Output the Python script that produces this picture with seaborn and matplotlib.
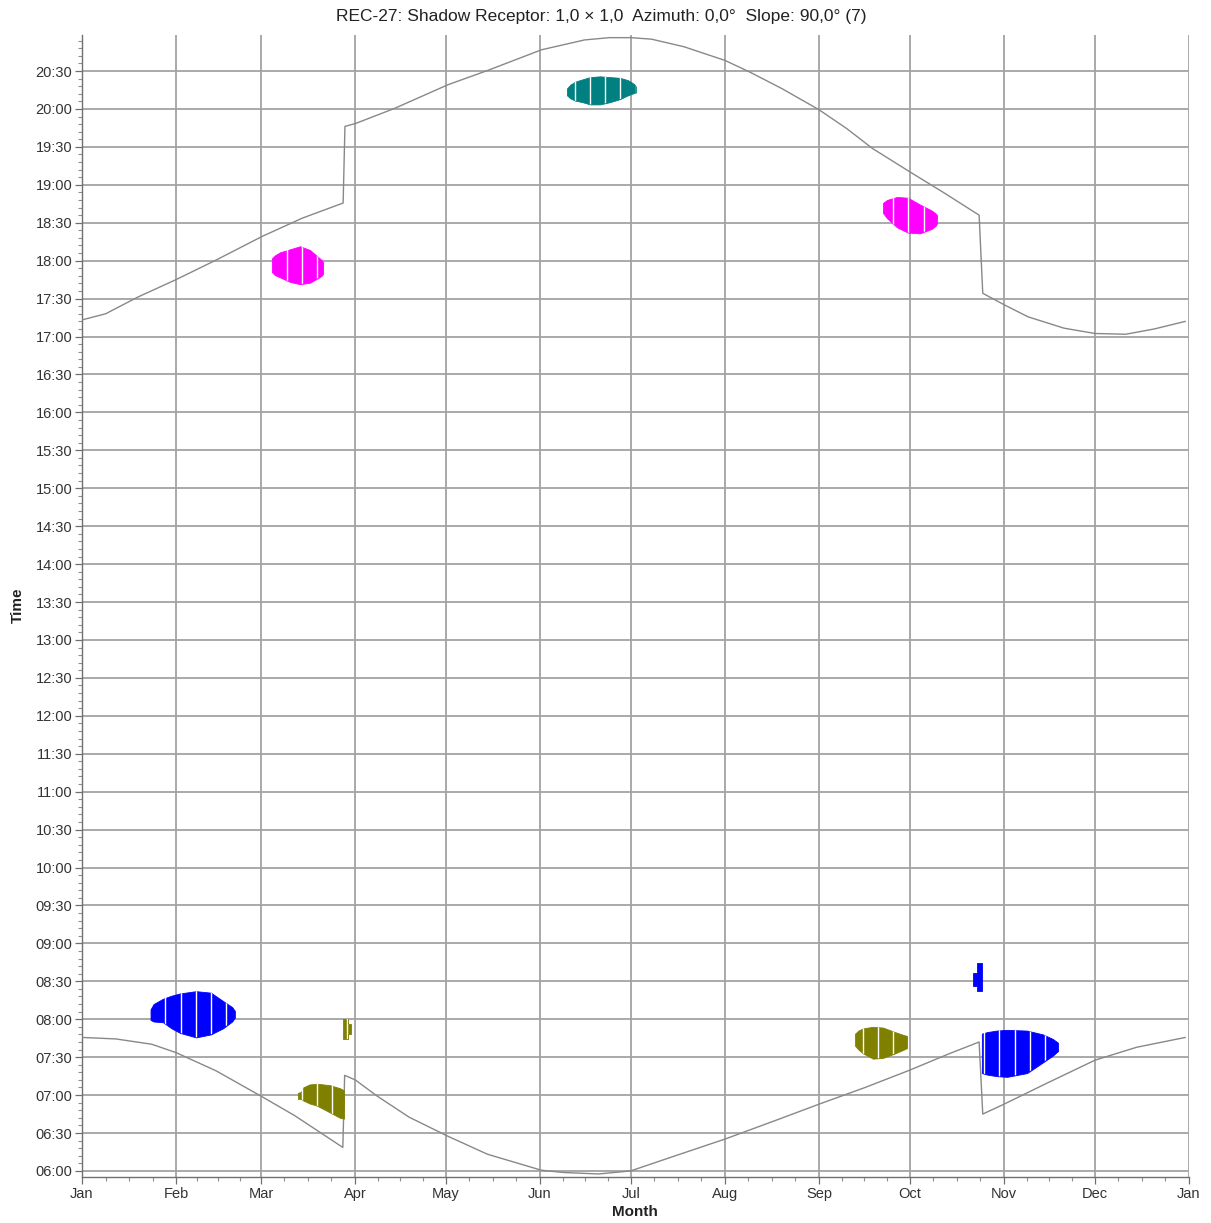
import numpy as np
import matplotlib
matplotlib.use("Agg")
import matplotlib.pyplot as plt
import seaborn as sns
import pandas as pd

# --- data (day of year, decimal hours) ---
MONTHS = ["Jan", "Feb", "Mar", "Apr", "May", "Jun", "Jul", "Aug", "Sep", "Oct", "Nov", "Dec", "Jan"]
MONTH_START = [0, 31, 59, 90, 120, 151, 181, 212, 243, 273, 304, 334, 365]

sunset_day = [0.1, 7.8, 18.4, 31, 44.3, 59.4, 72.6, 86.1, 86.7, 90.3, 103.2, 120.7, 133.9,
              151.5, 165.7, 173.9, 181, 187.8, 198.5, 212, 220, 230.7, 243, 252.2, 260.6,
              273, 284.4, 295.8, 297, 304, 311.9, 323.8, 334, 344.1, 353.6, 363.8]
sunset_hour = [17.22, 17.30, 17.52, 17.75, 18.01, 18.32, 18.56, 18.76, 19.77, 19.81, 20.01,
               20.32, 20.51, 20.78, 20.91, 20.94, 20.94, 20.92, 20.82, 20.64, 20.49, 20.27,
               19.99, 19.74, 19.48, 19.17, 18.89, 18.60, 17.57, 17.42, 17.26, 17.11, 17.04,
               17.03, 17.10, 17.20]

sunrise_day = [0.0, 11.2, 23, 31, 44.2, 59.3, 70.1, 86.0, 86.6, 90.1, 97.2, 107.8, 120.5,
               133.7, 151.4, 158.5, 170.3, 180.9, 194.9, 212, 228.3, 243, 258.2, 273, 285.6,
               295.8, 297, 304, 317.8, 334, 347.7, 363.8]
sunrise_hour = [7.76, 7.74, 7.67, 7.56, 7.32, 6.98, 6.73, 6.31, 7.26, 7.20, 6.99, 6.71, 6.46,
                6.22, 6.01, 5.98, 5.96, 6.00, 6.19, 6.42, 6.66, 6.88, 7.10, 7.33, 7.54,
                7.70, 6.75, 6.88, 7.15, 7.46, 7.63, 7.76]

# shadow periods: days, upper edge, lower edge
teal_day = [159.9, 161.0, 162.6, 165.0, 167.5, 170.8, 174.1, 177.4, 180.0, 182.0, 182.7]
teal_top = [20.27, 20.32, 20.36, 20.39, 20.42, 20.43, 20.42, 20.41, 20.38, 20.33, 20.29]
teal_bot = [20.18, 20.14, 20.11, 20.09, 20.06, 20.06, 20.09, 20.13, 20.18, 20.21, 20.22]

blue_feb_day = [22.6, 23.6, 26.7, 29.5, 32.3, 37.6, 42.5, 46.5, 49.5, 50.4]
blue_feb_top = [8.13, 8.20, 8.27, 8.31, 8.34, 8.37, 8.35, 8.24, 8.16, 8.11]
blue_feb_bot = [7.99, 7.97, 7.96, 7.88, 7.82, 7.76, 7.80, 7.88, 7.97, 8.02]

olive_tiny_day = [86.0, 87.6, 87.6, 88.7]
olive_tiny_top = [8.00, 8.00, 7.94, 7.94]
olive_tiny_bot = [7.74, 7.74, 7.81, 7.81]

olive_mar_day = [71.2, 72.2, 72.9, 75.0, 77.5, 81.8, 85.1, 86.4]
olive_mar_top = [7.03, 7.04, 7.10, 7.14, 7.15, 7.13, 7.09, 7.06]
olive_mar_bot = [6.95, 6.95, 6.93, 6.89, 6.86, 6.77, 6.70, 6.69]

mag_mar_day = [62.6, 63.6, 65.3, 68.6, 71.9, 75.2, 77.8, 79.0, 79.5]
mag_mar_top = [18.03, 18.07, 18.11, 18.15, 18.19, 18.14, 18.05, 18.01, 17.98]
mag_mar_bot = [17.85, 17.81, 17.78, 17.72, 17.69, 17.71, 17.77, 17.80, 17.83]

mag_oct_day = [264.1, 265.4, 268.7, 272.3, 276.3, 280.2, 281.5, 281.9]
mag_oct_top = [18.76, 18.80, 18.84, 18.83, 18.74, 18.66, 18.62, 18.60]
mag_oct_bot = [18.63, 18.56, 18.44, 18.37, 18.36, 18.42, 18.46, 18.49]

olive_sep_day = [254.9, 256.0, 257.5, 260.8, 264.1, 268.1, 271.0, 272.0]
olive_sep_top = [7.81, 7.85, 7.88, 7.90, 7.89, 7.83, 7.79, 7.78]
olive_sep_bot = [7.65, 7.60, 7.55, 7.48, 7.49, 7.55, 7.60, 7.62]

blue_small_day = [293.8, 295.1, 295.1, 296.7]
blue_small_top = [8.61, 8.61, 8.74, 8.74]
blue_small_bot = [8.44, 8.44, 8.37, 8.37]

blue_nov_day = [296.7, 298.4, 301.5, 305.0, 311.6, 316.8, 320.1, 321.8]
blue_nov_top = [7.81, 7.83, 7.85, 7.86, 7.85, 7.80, 7.74, 7.69]
blue_nov_bot = [7.29, 7.27, 7.25, 7.24, 7.29, 7.43, 7.52, 7.58]

blobs = [
    ("#008080", teal_day, teal_top, teal_bot),
    ("#0000ff", blue_feb_day, blue_feb_top, blue_feb_bot),
    ("#808000", olive_tiny_day, olive_tiny_top, olive_tiny_bot),
    ("#808000", olive_mar_day, olive_mar_top, olive_mar_bot),
    ("#ff00ff", mag_mar_day, mag_mar_top, mag_mar_bot),
    ("#ff00ff", mag_oct_day, mag_oct_top, mag_oct_bot),
    ("#808000", olive_sep_day, olive_sep_top, olive_sep_bot),
    ("#0000ff", blue_small_day, blue_small_top, blue_small_bot),
    ("#0000ff", blue_nov_day, blue_nov_top, blue_nov_bot),
]

# days missing from the calculation show as thin white gaps
GAP_DAYS = np.arange(2.5, 365, 5)

sns.set_theme(style="white")
plt.rcParams["font.family"] = ["Liberation Sans", "DejaVu Sans"]

fig = plt.figure(figsize=(12.11, 12.23), dpi=100)
ax = fig.add_axes([82 / 1211, 1 - 1177 / 1223, (1189 - 82) / 1211, (1177 - 35) / 1223])

sunset = pd.DataFrame({"day": sunset_day, "hour": sunset_hour})
sunrise = pd.DataFrame({"day": sunrise_day, "hour": sunrise_hour})
sns.lineplot(data=sunset, x="day", y="hour", ax=ax, color="#888888", lw=1.0,
             estimator=None, sort=False, zorder=3)
sns.lineplot(data=sunrise, x="day", y="hour", ax=ax, color="#888888", lw=1.0,
             estimator=None, sort=False, zorder=3)

for color, days, top, bot in blobs:
    poly = ax.fill_between(days, bot, top, color=color, lw=0.6, edgecolor=color, zorder=4)
    path = poly.get_paths()[0]
    for g in GAP_DAYS:
        if days[0] < g < days[-1]:
            ln = ax.axvline(g, color="white", lw=1.0, zorder=5)
            ln.set_clip_path(path, ax.transData)

ax.set_xlim(0, 365)
ax.set_ylim(5.92, 20.975)

ax.set_xticks(MONTH_START)
ax.set_xticklabels(MONTHS)
minor_x = []
for i in range(12):
    step = (MONTH_START[i + 1] - MONTH_START[i]) / 4
    minor_x += [MONTH_START[i] + k * step for k in (1, 2, 3)]
ax.set_xticks(minor_x, minor=True)

yt = np.arange(6, 20.51, 0.5)
ax.set_yticks(yt)
ax.set_yticklabels([f"{int(h):02d}:{int(round((h % 1) * 60)):02d}" for h in yt])
ax.set_yticks(np.arange(6.0, 20.98, 0.1), minor=True)

ax.grid(which="major", color="#a2a2a2", lw=1.3)
ax.set_axisbelow(True)
for s in ["top", "right"]:
    ax.spines[s].set_visible(False)
for s in ["left", "bottom"]:
    ax.spines[s].set_color("#707070")
    ax.spines[s].set_linewidth(1.0)

ax.tick_params(which="major", length=5, width=0.9, color="#707070", labelsize=10.5,
               labelcolor="#333333", pad=2, left=True, bottom=True)
ax.tick_params(which="minor", length=3, width=0.8, color="#909090", left=True, bottom=True)
ax.set_xlabel("")
ax.set_ylabel("")

fig.text(601 / 1211, 1 - 16 / 1223,
         "REC-27: Shadow Receptor: 1,0 \u00d7 1,0  Azimuth: 0,0\u00b0  Slope: 90,0\u00b0 (7)",
         ha="center", va="center", fontsize=12.5, color="#222222")
fig.text(18 / 1211, 1 - 605 / 1223, "Time", rotation=90, ha="center", va="center",
         fontsize=11, fontweight="bold", color="#222222")
fig.text(635 / 1211, 1 - 1212 / 1223, "Month", ha="center", va="center",
         fontsize=11, fontweight="bold", color="#222222")

fig.savefig("out.png", dpi=100)
